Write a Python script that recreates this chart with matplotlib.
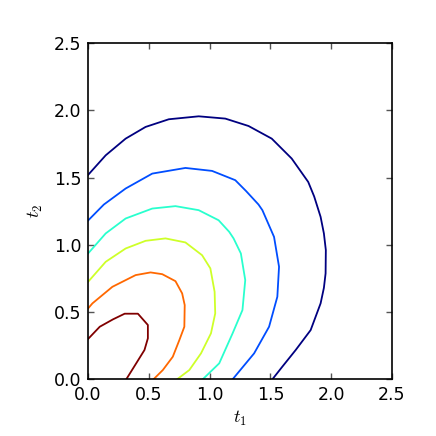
import numpy as np
import matplotlib
matplotlib.use("Agg")
import matplotlib.pyplot as plt

plt.rcParams['mathtext.fontset'] = 'cm'

# Contour lines, outermost (lowest level) first
c0_t1 = [0, 0.145, 0.309, 0.473, 0.664, 0.910, 1.129, 1.320, 1.511, 1.675, 1.811, 1.860, 1.913, 1.940, 1.956, 1.954, 1.940, 1.913, 1.831, 1.708, 1.598, 1.516]
c0_t2 = [1.520, 1.666, 1.790, 1.877, 1.934, 1.956, 1.939, 1.884, 1.790, 1.642, 1.468, 1.360, 1.208, 1.085, 0.961, 0.788, 0.680, 0.565, 0.366, 0.218, 0.094, 0]

c1_t1 = [0, 0.130, 0.309, 0.528, 0.801, 1.020, 1.211, 1.300, 1.402, 1.434, 1.530, 1.571, 1.557, 1.489, 1.366, 1.189]
c1_t2 = [1.181, 1.300, 1.419, 1.530, 1.572, 1.550, 1.481, 1.400, 1.300, 1.258, 1.059, 0.837, 0.614, 0.391, 0.193, 0]

c2_t1 = [0, 0.145, 0.309, 0.528, 0.719, 0.910, 1.074, 1.161, 1.197, 1.257, 1.293, 1.270, 1.189, 1.079, 0.943]
c2_t2 = [0.936, 1.085, 1.196, 1.270, 1.288, 1.258, 1.183, 1.097, 1.048, 0.936, 0.738, 0.515, 0.342, 0.119, 0]

c3_t1 = [0, 0.145, 0.309, 0.473, 0.637, 0.801, 0.938, 1.006, 1.041, 1.046, 1.011, 0.929, 0.833, 0.732]
c3_t2 = [0.725, 0.874, 0.973, 1.030, 1.048, 1.018, 0.923, 0.825, 0.651, 0.490, 0.342, 0.193, 0.069, 0]

c4_t1 = [0, 0.036, 0.200, 0.391, 0.514, 0.610, 0.719, 0.774, 0.795, 0.792, 0.751, 0.697, 0.615, 0.538]
c4_t2 = [0.527, 0.565, 0.688, 0.775, 0.795, 0.782, 0.730, 0.639, 0.552, 0.391, 0.292, 0.168, 0.069, 0]

c5_t1 = [0, 0.096, 0.205, 0.301, 0.410, 0.492, 0.492, 0.464, 0.396, 0.314]
c5_t2 = [0.300, 0.391, 0.446, 0.488, 0.488, 0.404, 0.305, 0.218, 0.119, 0]

contours = [(c0_t1, c0_t2), (c1_t1, c1_t2), (c2_t1, c2_t2),
            (c3_t1, c3_t2), (c4_t1, c4_t2), (c5_t1, c5_t2)]

ticks = [0.0, 0.5, 1.0, 1.5, 2.0, 2.5]

fig = plt.figure(figsize=(4.36, 4.36), dpi=100, facecolor='white')
ax = fig.add_axes([0.202, 0.130, 0.697, 0.771])
colors = plt.cm.jet(np.linspace(0, 1, len(contours)))
for (x, y), c in zip(contours, colors):
    ax.plot(x, y, color=c, lw=1.3)

ax.set_xlim(0, 2.5)
ax.set_ylim(0, 2.5)
ax.set_xticks(ticks)
ax.set_yticks(ticks)
ax.set_xticklabels([f"{t:.1f}" for t in ticks])
ax.set_yticklabels([f"{t:.1f}" for t in ticks])
ax.tick_params(direction='in', top=True, right=True, length=4, width=1,
               color='#555555', labelsize=12.5, pad=5)
for s in ax.spines.values():
    s.set_linewidth(1.2)
ax.set_xlabel(r'$t_1$', fontsize=13, labelpad=3)
ax.set_ylabel(r'$t_2$', fontsize=13, labelpad=6)

fig.savefig('out.png', dpi=100, facecolor='white')
